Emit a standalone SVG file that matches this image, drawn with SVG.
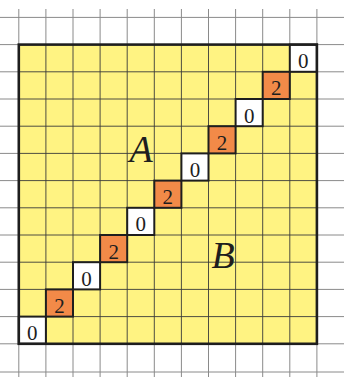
<svg xmlns="http://www.w3.org/2000/svg" width="344" height="377" viewBox="0 0 344 377">
<style>
.outer{stroke:#8a8a8a;stroke-width:1;fill:none}
.inner{stroke:#3a3a3a;stroke-width:0.9;fill:none}
.cell{stroke:#1e1e1e;stroke-width:2}
.w{fill:#ffffff}
.o{fill:#f28a48}
.num{font-family:"Liberation Serif","Times New Roman",serif;font-size:21px;fill:#1e1e1e;text-anchor:middle}
.lab{font-family:"Liberation Serif","Times New Roman",serif;font-style:italic;font-size:38px;fill:#1e1e1e;text-anchor:middle}
</style>
<rect width="344" height="377" fill="#ffffff"/>
<g id="connectors">
<path class="outer" d="M18.8 9V377M45.9 9V377M73 9V377M100.1 9V377M127.2 9V377M154.3 9V377M181.4 9V377M208.5 9V377M235.6 9V377M262.7 9V377M289.8 9V377M316.9 9V377M0 17.4H344M0 44.6H344M0 71.8H344M0 99H344M0 126.2H344M0 153.4H344M0 180.6H344M0 207.8H344M0 235H344M0 262.2H344M0 289.4H344M0 316.6H344M0 343.8H344M0 372H344"/>
</g>
<g id="board">
<rect x="18.8" y="44.6" width="298.1" height="299.2" fill="#fff382"/>
<path class="inner" d="M45.9 44.6V343.8M73 44.6V343.8M100.1 44.6V343.8M127.2 44.6V343.8M154.3 44.6V343.8M181.4 44.6V343.8M208.5 44.6V343.8M235.6 44.6V343.8M262.7 44.6V343.8M289.8 44.6V343.8M18.8 71.8H316.9M18.8 99H316.9M18.8 126.2H316.9M18.8 153.4H316.9M18.8 180.6H316.9M18.8 207.8H316.9M18.8 235H316.9M18.8 262.2H316.9M18.8 289.4H316.9M18.8 316.6H316.9"/>
</g>
<g id="c0"><rect class="cell w" x="18.8" y="316.6" width="27.1" height="27.2"/><text class="num" x="32.35" y="340.2">0</text></g>
<g id="c1"><rect class="cell o" x="45.9" y="289.4" width="27.1" height="27.2"/><text class="num" x="59.45" y="313">2</text></g>
<g id="c2"><rect class="cell w" x="73" y="262.2" width="27.1" height="27.2"/><text class="num" x="86.55" y="285.8">0</text></g>
<g id="c3"><rect class="cell o" x="100.1" y="235" width="27.1" height="27.2"/><text class="num" x="113.65" y="258.6">2</text></g>
<g id="c4"><rect class="cell w" x="127.2" y="207.8" width="27.1" height="27.2"/><text class="num" x="140.75" y="231.4">0</text></g>
<g id="c5"><rect class="cell o" x="154.3" y="180.6" width="27.1" height="27.2"/><text class="num" x="167.85" y="204.2">2</text></g>
<g id="c6"><rect class="cell w" x="181.4" y="153.4" width="27.1" height="27.2"/><text class="num" x="194.95" y="177">0</text></g>
<g id="c7"><rect class="cell o" x="208.5" y="126.2" width="27.1" height="27.2"/><text class="num" x="222.05" y="149.8">2</text></g>
<g id="c8"><rect class="cell w" x="235.6" y="99" width="27.1" height="27.2"/><text class="num" x="249.15" y="122.6">0</text></g>
<g id="c9"><rect class="cell o" x="262.7" y="71.8" width="27.1" height="27.2"/><text class="num" x="276.25" y="95.4">2</text></g>
<g id="c10"><rect class="cell w" x="289.8" y="44.6" width="27.1" height="27.2"/><text class="num" x="303.35" y="68.2">0</text></g>
<g id="frame"><rect x="18.8" y="44.6" width="298.1" height="299.2" fill="none" stroke="#1e1e1e" stroke-width="2.6"/></g>
<g id="labelA"><text class="lab" x="141" y="162">A</text></g>
<g id="labelB"><text class="lab" x="223" y="268">B</text></g>
</svg>
